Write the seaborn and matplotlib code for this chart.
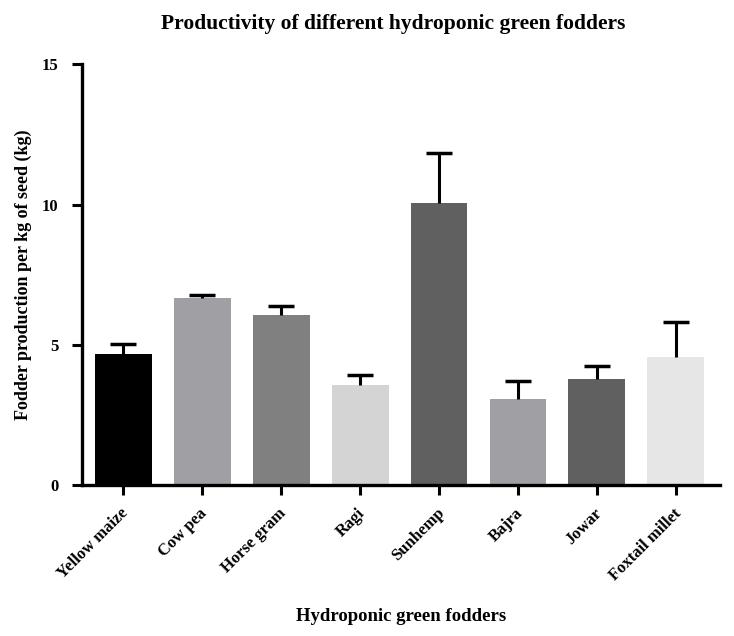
import numpy as np
import pandas as pd
import matplotlib
matplotlib.use("Agg")
import matplotlib.pyplot as plt
import matplotlib.transforms as mtransforms
import seaborn as sns

# data
fodders = ["Yellow maize", "Cow pea", "Horse gram", "Ragi",
           "Sunhemp", "Bajra", "Jowar", "Foxtail millet"]
means = [4.68, 6.68, 6.08, 3.58, 10.07, 3.07, 3.78, 4.57]
errors = [0.37, 0.11, 0.31, 0.34, 1.77, 0.64, 0.46, 1.23]
bar_colors = ["#000000", "#a0a0a4", "#808080", "#d4d4d4",
              "#606060", "#a0a0a4", "#606060", "#e6e6e6"]

df = pd.DataFrame({"fodder": fodders, "yield": means, "err": errors})

sns.set_style("ticks", {"axes.edgecolor": "black",
                        "xtick.color": "black", "ytick.color": "black"})
plt.rcParams["font.family"] = ["Liberation Serif", "DejaVu Serif"]
plt.rcParams["font.weight"] = "bold"
plt.rcParams["text.color"] = "black"
plt.rcParams["axes.labelcolor"] = "black"

fig = plt.figure(figsize=(7.34, 6.36), dpi=100)
ax = fig.add_axes([0.112, 0.237, 0.869, 0.662])

sns.barplot(data=df, x="fodder", y="yield", hue="fodder",
            palette=bar_colors, width=0.72, errorbar=None,
            legend=False, ax=ax, saturation=1, edgecolor="none")

# upper-only error bars (mean + SEM), Prism style
x = np.arange(len(fodders))
tops = df["yield"] + df["err"]
ax.errorbar(x, df["yield"], yerr=[np.zeros(len(x)), df["err"]],
            fmt="none", ecolor="black", elinewidth=2.2, capsize=0, zorder=3)
ax.plot(x, tops, ls="none", marker="_", ms=19, mew=2.5, color="black", zorder=3)

ax.set_ylim(0, 15)
ax.set_xlim(-0.52, 7.56)
ax.set_yticks([0, 5, 10, 15])

for side in ["left", "bottom"]:
    ax.spines[side].set_linewidth(2.4)
    ax.spines[side].set_color("black")
sns.despine(ax=ax)
ax.tick_params(axis="both", width=2.2, length=7, direction="out",
               labelsize=12, colors="black")
ax.tick_params(axis="y", pad=10)

offset = mtransforms.ScaledTranslation(2 / 72, -8 / 72, fig.dpi_scale_trans)
for lab in ax.get_xticklabels():
    lab.set_rotation(45)
    lab.set_ha("right")
    lab.set_va("center")
    lab.set_rotation_mode("anchor")
    lab.set_transform(lab.get_transform() + offset)
    lab.set_fontweight("bold")
for lab in ax.get_yticklabels():
    lab.set_fontweight("bold")

ax.set_xlabel("Hydroponic green fodders", fontsize=13.5, fontweight="bold", labelpad=18)
ax.set_ylabel("Fodder production per kg of seed (kg)", fontsize=13,
              fontweight="bold", labelpad=7)
fig.text(0.535, 0.962, "Productivity of different hydroponic green fodders",
         ha="center", va="center", fontsize=15.5, fontweight="bold")

fig.savefig("out.png", dpi=100)
